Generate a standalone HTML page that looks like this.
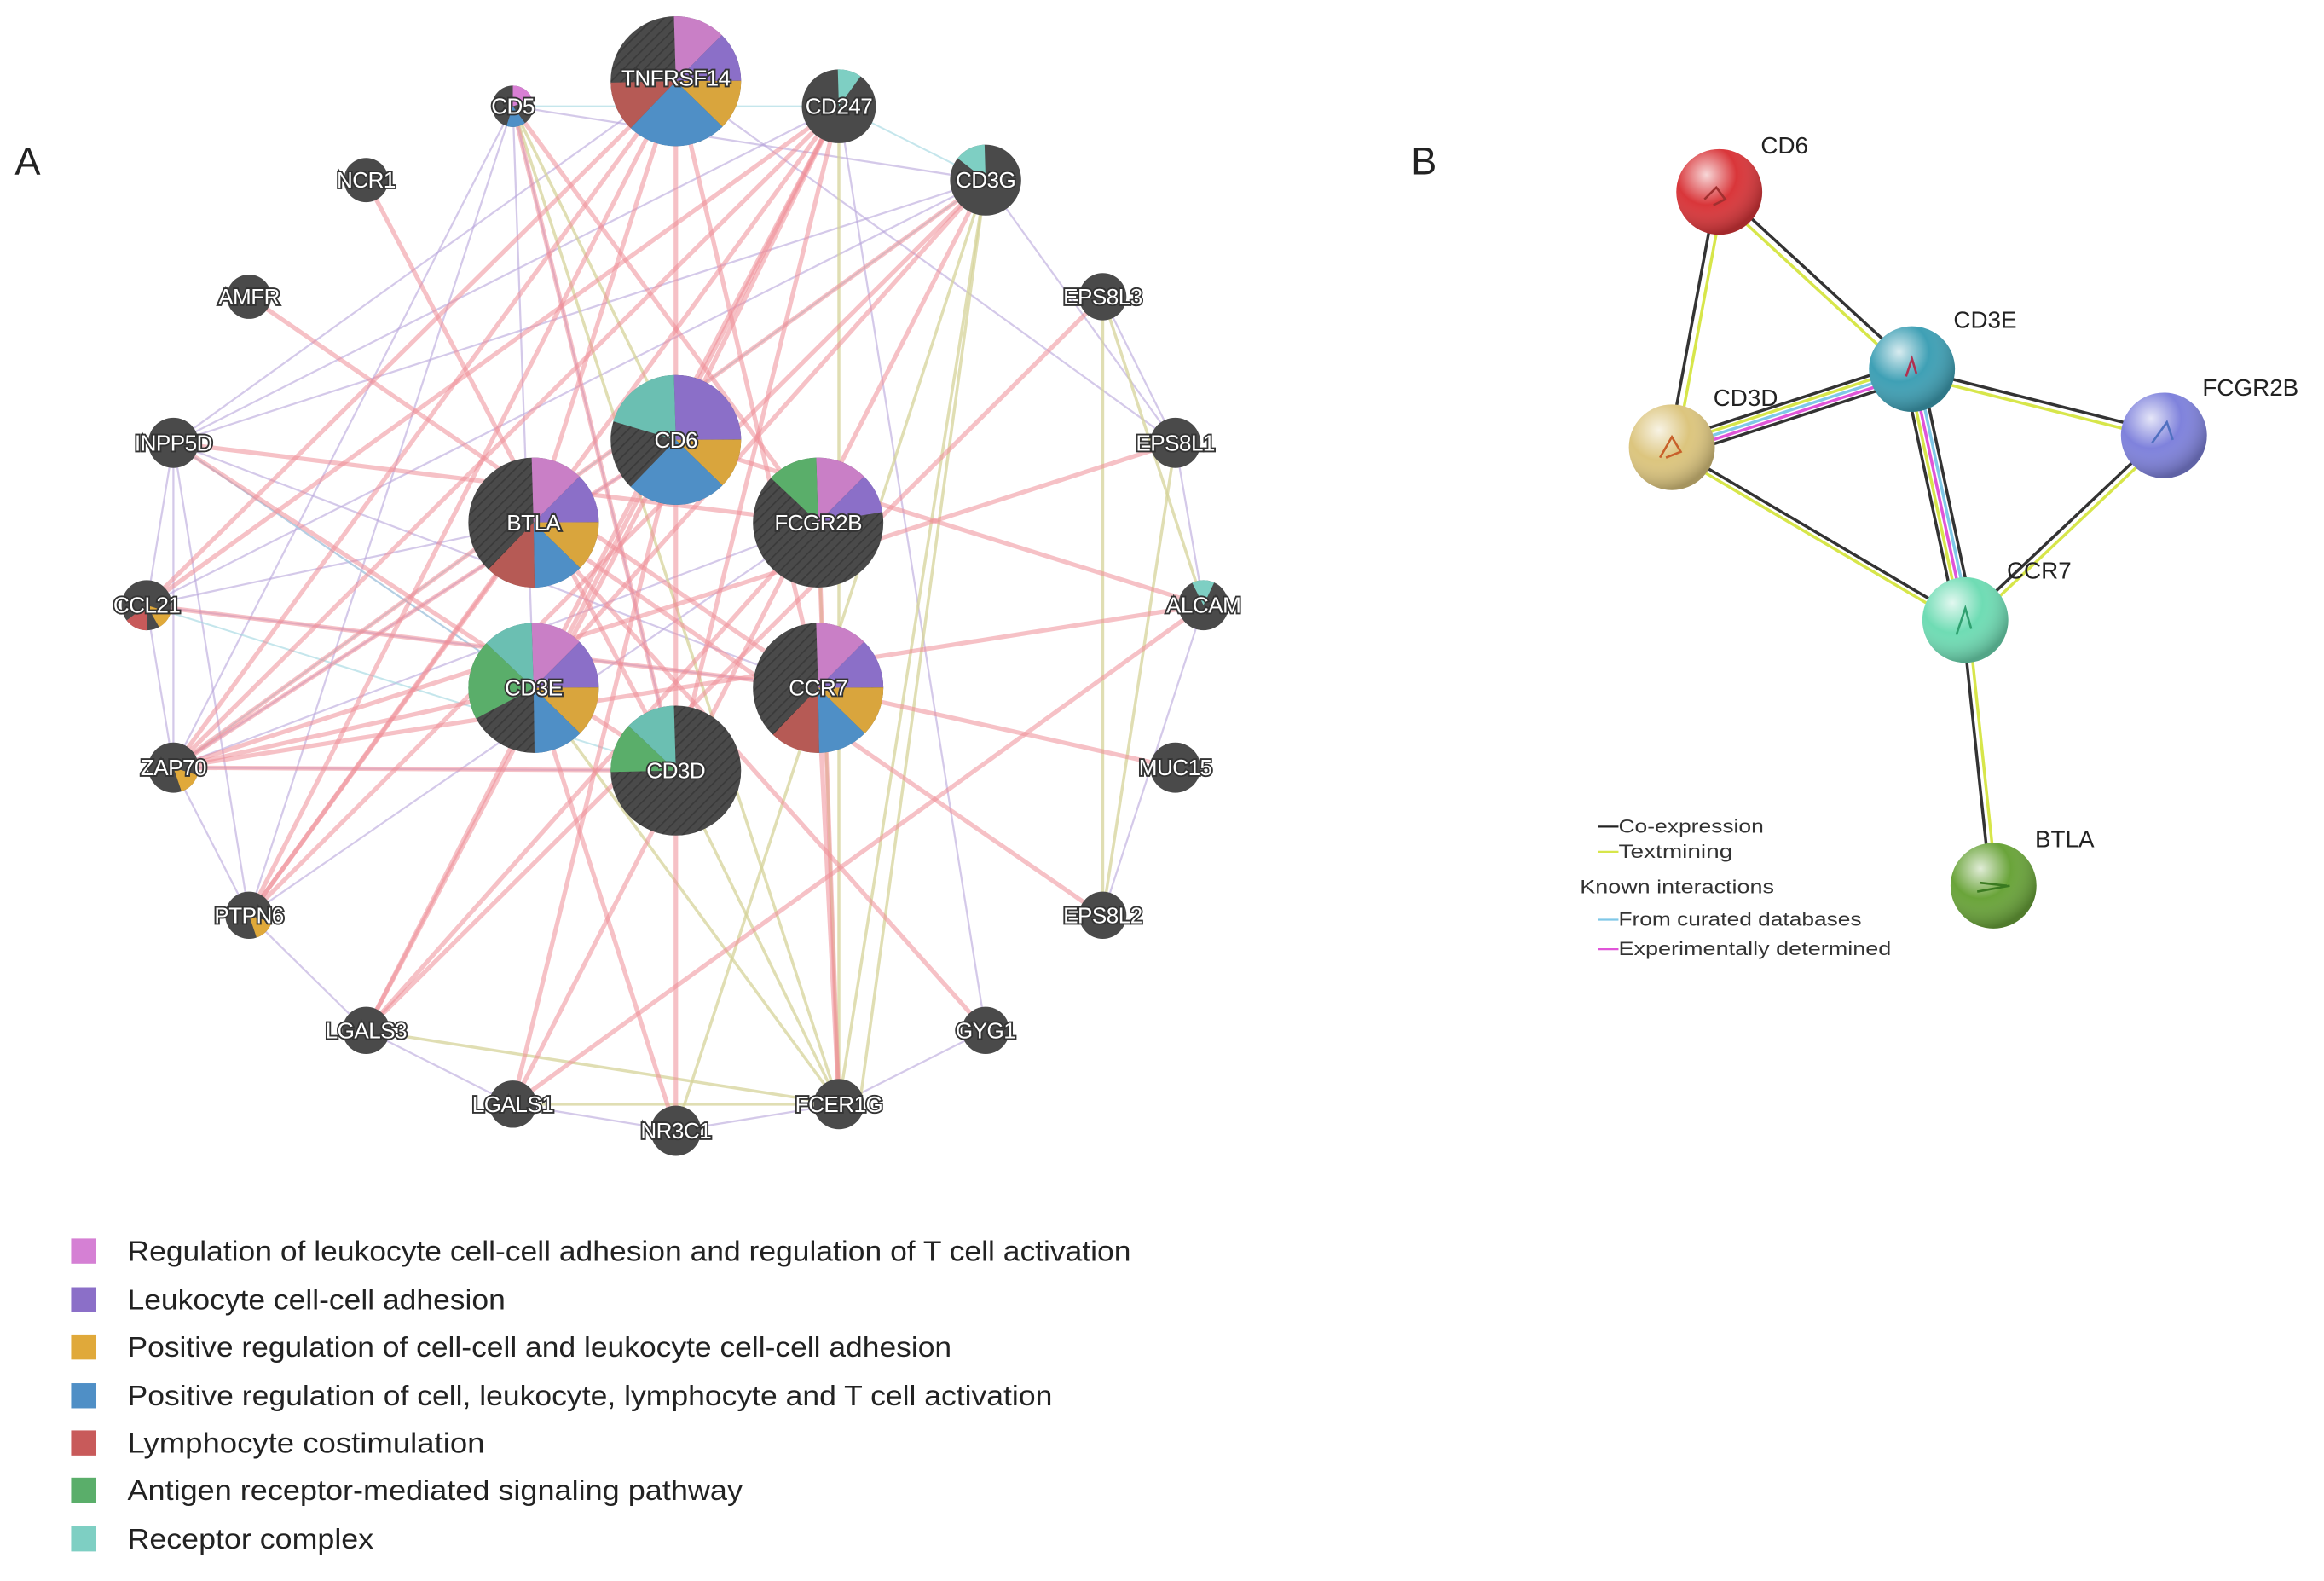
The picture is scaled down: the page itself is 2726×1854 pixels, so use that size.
<!DOCTYPE html>
<html><head><meta charset="utf-8">
<style>
html,body{margin:0;padding:0;background:#fff;}
svg{display:block;}
.lbl{font-family:"Liberation Sans",Arial,sans-serif;font-size:15px;fill:#fff;stroke:#333;stroke-width:2.2px;paint-order:stroke;text-anchor:middle;dominant-baseline:central;letter-spacing:-0.3px}
.leg{font-family:"Liberation Sans",Arial,sans-serif;font-size:19px;fill:#222}
.bl{font-family:"Liberation Sans",Arial,sans-serif;font-size:16px;fill:#222}
.sl{font-family:"Liberation Sans",Arial,sans-serif;font-size:13px;fill:#333}
.pk line{stroke:#f08f98;stroke-width:3;opacity:.55}
.pu line{stroke:#b9a6dc;stroke-width:1.3;opacity:.6}
.ol line{stroke:#d6d49a;stroke-width:2;opacity:.75}
.cy line{stroke:#9fd6e0;stroke-width:1.2;opacity:.6}
</style></head><body>
<svg width="2726" height="1854" viewBox="0 0 1568 1071" preserveAspectRatio="none" xmlns="http://www.w3.org/2000/svg">
<defs>
<pattern id="h" width="5" height="5" patternUnits="userSpaceOnUse" patternTransform="rotate(45)">
<rect width="5" height="5" fill="#4a4a4a"/><line x1="0" y1="0" x2="0" y2="5" stroke="#3a3a3a" stroke-width="2"/></pattern>
<radialGradient id="gr" cx="35%" cy="30%" r="70%"><stop offset="0" stop-color="#fff" stop-opacity=".8"/><stop offset=".5" stop-color="#fff" stop-opacity="0"/><stop offset="1" stop-color="#000" stop-opacity=".25"/></radialGradient>
</defs>
<text x="10" y="118" font-family="Liberation Sans,Arial,sans-serif" font-size="26" fill="#222">A</text>
<text x="952" y="118" font-family="Liberation Sans,Arial,sans-serif" font-size="26" fill="#222">B</text>

<g class="pu">
<line x1="346" y1="72" x2="117" y2="520"/><line x1="346" y1="72" x2="168" y2="620"/><line x1="346" y1="72" x2="360" y2="466"/>
<line x1="346" y1="72" x2="665" y2="122"/><line x1="117" y1="300" x2="99" y2="410"/><line x1="99" y1="410" x2="117" y2="520"/>
<line x1="117" y1="520" x2="168" y2="620"/><line x1="117" y1="300" x2="117" y2="520"/><line x1="117" y1="300" x2="168" y2="620"/>
<line x1="117" y1="300" x2="552" y2="466"/><line x1="99" y1="410" x2="552" y2="466"/><line x1="117" y1="520" x2="456" y2="522"/>
<line x1="168" y1="620" x2="552" y2="354"/><line x1="168" y1="620" x2="247" y2="698"/><line x1="247" y1="698" x2="346" y2="748"/>
<line x1="346" y1="748" x2="456" y2="766"/><line x1="456" y1="766" x2="566" y2="748"/><line x1="566" y1="748" x2="665" y2="698"/>
<line x1="665" y1="122" x2="117" y2="300"/><line x1="665" y1="122" x2="99" y2="410"/><line x1="566" y1="72" x2="117" y2="300"/>
<line x1="456" y1="55" x2="117" y2="300"/><line x1="456" y1="55" x2="793" y2="300"/><line x1="793" y1="300" x2="812" y2="410"/>
<line x1="744" y1="201" x2="793" y2="300"/><line x1="812" y1="410" x2="744" y2="620"/><line x1="665" y1="122" x2="793" y2="300"/>
<line x1="360" y1="354" x2="99" y2="410"/><line x1="360" y1="466" x2="117" y2="300"/><line x1="456" y1="298" x2="117" y2="520"/>
<line x1="552" y1="354" x2="117" y2="520"/><line x1="346" y1="72" x2="456" y2="522"/><line x1="566" y1="72" x2="665" y2="698"/>
</g>
<g class="cy">
<line x1="117" y1="300" x2="360" y2="466"/><line x1="99" y1="410" x2="456" y2="522"/><line x1="117" y1="520" x2="665" y2="122"/>
<line x1="566" y1="72" x2="665" y2="122"/><line x1="346" y1="72" x2="566" y2="72"/>
</g>
<g class="ol">
<line x1="566" y1="748" x2="665" y2="122"/><line x1="566" y1="748" x2="566" y2="72"/><line x1="566" y1="748" x2="360" y2="466"/>
<line x1="566" y1="748" x2="456" y2="522"/><line x1="566" y1="748" x2="346" y2="72"/><line x1="744" y1="201" x2="744" y2="620"/>
<line x1="793" y1="300" x2="744" y2="620"/><line x1="744" y1="201" x2="812" y2="410"/><line x1="456" y1="766" x2="665" y2="122"/>
<line x1="566" y1="748" x2="552" y2="354"/><line x1="346" y1="748" x2="566" y2="748"/><line x1="247" y1="698" x2="566" y2="748"/>
<line x1="580" y1="748" x2="665" y2="122"/><line x1="346" y1="72" x2="456" y2="298"/>
</g>
<g class="pk">
<line x1="456" y1="55" x2="117" y2="520"/><line x1="456" y1="55" x2="99" y2="410"/><line x1="456" y1="55" x2="168" y2="620"/>
<line x1="566" y1="72" x2="117" y2="520"/><line x1="566" y1="72" x2="168" y2="620"/><line x1="566" y1="72" x2="247" y2="698"/>
<line x1="665" y1="122" x2="117" y2="520"/><line x1="665" y1="122" x2="168" y2="620"/><line x1="456" y1="298" x2="812" y2="410"/>
<line x1="456" y1="298" x2="346" y2="748"/><line x1="552" y1="466" x2="99" y2="410"/><line x1="552" y1="466" x2="566" y2="748"/>
<line x1="552" y1="354" x2="566" y2="748"/><line x1="552" y1="354" x2="117" y2="300"/><line x1="456" y1="522" x2="117" y2="520"/>
<line x1="360" y1="466" x2="117" y2="520"/><line x1="360" y1="354" x2="168" y2="620"/><line x1="247" y1="122" x2="456" y2="522"/>
<line x1="168" y1="201" x2="552" y2="466"/><line x1="744" y1="201" x2="247" y2="698"/><line x1="793" y1="300" x2="117" y2="520"/>
<line x1="812" y1="410" x2="346" y2="748"/><line x1="360" y1="466" x2="665" y2="122"/><line x1="456" y1="522" x2="566" y2="72"/>
<line x1="360" y1="466" x2="566" y2="72"/><line x1="360" y1="354" x2="456" y2="55"/><line x1="346" y1="72" x2="456" y2="522"/>
<line x1="456" y1="766" x2="456" y2="55"/><line x1="247" y1="698" x2="456" y2="298"/><line x1="552" y1="354" x2="247" y2="698"/>
<line x1="552" y1="466" x2="793" y2="520"/><line x1="360" y1="354" x2="665" y2="698"/><line x1="117" y1="300" x2="456" y2="522"/>
<line x1="99" y1="410" x2="566" y2="72"/><line x1="812" y1="410" x2="117" y2="520"/><line x1="456" y1="298" x2="117" y2="520"/>
<line x1="552" y1="354" x2="346" y2="72"/><line x1="360" y1="466" x2="456" y2="766"/><line x1="665" y1="122" x2="346" y2="748"/>
<line x1="744" y1="620" x2="360" y2="354"/><line x1="566" y1="72" x2="456" y2="298"/><line x1="456" y1="55" x2="552" y2="466"/>
</g>

<g fill="#4a4a4a">
<circle cx="346" cy="72" r="14"/><circle cx="247" cy="122" r="15"/><circle cx="168" cy="201" r="15"/>
<circle cx="744" cy="201" r="16"/><circle cx="117" cy="300" r="17"/><circle cx="793" cy="300" r="17"/>
<circle cx="99" cy="410" r="17"/><circle cx="812" cy="410" r="17"/><circle cx="117" cy="520" r="17"/>
<circle cx="793" cy="520" r="17"/><circle cx="168" cy="620" r="16"/><circle cx="744" cy="620" r="16"/>
<circle cx="247" cy="698" r="16"/><circle cx="665" cy="698" r="16"/><circle cx="346" cy="748" r="16"/>
<circle cx="456" cy="766" r="17"/><circle cx="566" cy="748" r="17"/>
<circle cx="566" cy="72" r="25"/><circle cx="665" cy="122" r="24"/>
</g>
<circle cx="346" cy="72" r="7" fill="none" stroke="#d87fd4" stroke-width="14" pathLength="100" stroke-dasharray="20 80" transform="rotate(-90 346 72)"/>
<circle cx="346" cy="72" r="7" fill="none" stroke="#4f8fc6" stroke-width="14" pathLength="100" stroke-dasharray="15 85" stroke-dashoffset="-40" transform="rotate(-90 346 72)"/>
<circle cx="566" cy="72" r="12.5" fill="none" stroke="#7ecfc3" stroke-width="25" pathLength="100" stroke-dasharray="10 90" transform="rotate(-90 566 72)"/>
<circle cx="665" cy="122" r="12" fill="none" stroke="#7ecfc3" stroke-width="24" pathLength="100" stroke-dasharray="14 86" stroke-dashoffset="14" transform="rotate(-90 665 122)"/>
<circle cx="812" cy="410" r="8.5" fill="none" stroke="#7ecfc3" stroke-width="17" pathLength="100" stroke-dasharray="14 86" stroke-dashoffset="7" transform="rotate(-90 812 410)"/>
<circle cx="99" cy="410" r="8.5" fill="none" stroke="#c85a5a" stroke-width="17" pathLength="100" stroke-dasharray="15 85" stroke-dashoffset="-50" transform="rotate(-90 99 410)"/>
<circle cx="99" cy="410" r="8.5" fill="none" stroke="#e0a93a" stroke-width="17" pathLength="100" stroke-dasharray="12 88" stroke-dashoffset="-30" transform="rotate(-90 99 410)"/>
<circle cx="117" cy="520" r="8.5" fill="none" stroke="#e0a93a" stroke-width="17" pathLength="100" stroke-dasharray="15 85" stroke-dashoffset="-30" transform="rotate(-90 117 520)"/>
<circle cx="168" cy="620" r="8" fill="none" stroke="#e0a93a" stroke-width="16" pathLength="100" stroke-dasharray="15 85" stroke-dashoffset="-30" transform="rotate(-90 168 620)"/>

<g fill="url(#h)">
<circle cx="456" cy="55" r="44"/><circle cx="456" cy="298" r="44"/><circle cx="360" cy="354" r="44"/>
<circle cx="552" cy="354" r="44"/><circle cx="360" cy="466" r="44"/><circle cx="552" cy="466" r="44"/><circle cx="456" cy="522" r="44"/>
</g>
<g fill="none" stroke-width="44" transform="rotate(-90 456 55)">
<circle cx="456" cy="55" r="22" stroke="#c97fc6" pathLength="100" stroke-dasharray="12.5 87.5"/>
<circle cx="456" cy="55" r="22" stroke="#8b6fc8" pathLength="100" stroke-dasharray="12.5 87.5" stroke-dashoffset="-12.5"/>
<circle cx="456" cy="55" r="22" stroke="#d9a53d" pathLength="100" stroke-dasharray="12.5 87.5" stroke-dashoffset="-25"/>
<circle cx="456" cy="55" r="22" stroke="#4f8fc6" pathLength="100" stroke-dasharray="25 75" stroke-dashoffset="-37.5"/>
<circle cx="456" cy="55" r="22" stroke="#b65a55" pathLength="100" stroke-dasharray="12.5 87.5" stroke-dashoffset="-62.5"/>
</g>
<g fill="none" stroke-width="44" transform="rotate(-90 456 298)">
<circle cx="456" cy="298" r="22" stroke="#8b6fc8" pathLength="100" stroke-dasharray="25 75"/>
<circle cx="456" cy="298" r="22" stroke="#d9a53d" pathLength="100" stroke-dasharray="12.5 87.5" stroke-dashoffset="-25"/>
<circle cx="456" cy="298" r="22" stroke="#4f8fc6" pathLength="100" stroke-dasharray="25 75" stroke-dashoffset="-37.5"/>
<circle cx="456" cy="298" r="22" stroke="#6bbfb2" pathLength="100" stroke-dasharray="20 80" stroke-dashoffset="-80"/>
</g>
<g fill="none" stroke-width="44" transform="rotate(-90 360 354)">
<circle cx="360" cy="354" r="22" stroke="#c97fc6" pathLength="100" stroke-dasharray="12.5 87.5"/>
<circle cx="360" cy="354" r="22" stroke="#8b6fc8" pathLength="100" stroke-dasharray="12.5 87.5" stroke-dashoffset="-12.5"/>
<circle cx="360" cy="354" r="22" stroke="#d9a53d" pathLength="100" stroke-dasharray="12.5 87.5" stroke-dashoffset="-25"/>
<circle cx="360" cy="354" r="22" stroke="#4f8fc6" pathLength="100" stroke-dasharray="12.5 87.5" stroke-dashoffset="-37.5"/>
<circle cx="360" cy="354" r="22" stroke="#b65a55" pathLength="100" stroke-dasharray="12.5 87.5" stroke-dashoffset="-50"/>
</g>
<g fill="none" stroke-width="44" transform="rotate(-90 552 466)">
<circle cx="552" cy="466" r="22" stroke="#c97fc6" pathLength="100" stroke-dasharray="12.5 87.5"/>
<circle cx="552" cy="466" r="22" stroke="#8b6fc8" pathLength="100" stroke-dasharray="12.5 87.5" stroke-dashoffset="-12.5"/>
<circle cx="552" cy="466" r="22" stroke="#d9a53d" pathLength="100" stroke-dasharray="12.5 87.5" stroke-dashoffset="-25"/>
<circle cx="552" cy="466" r="22" stroke="#4f8fc6" pathLength="100" stroke-dasharray="12.5 87.5" stroke-dashoffset="-37.5"/>
<circle cx="552" cy="466" r="22" stroke="#b65a55" pathLength="100" stroke-dasharray="12.5 87.5" stroke-dashoffset="-50"/>
</g>
<g fill="none" stroke-width="44" transform="rotate(-90 552 354)">
<circle cx="552" cy="354" r="22" stroke="#c97fc6" pathLength="100" stroke-dasharray="12.5 87.5"/>
<circle cx="552" cy="354" r="22" stroke="#8b6fc8" pathLength="100" stroke-dasharray="10 90" stroke-dashoffset="-12.5"/>
<circle cx="552" cy="354" r="22" stroke="#5aae6a" pathLength="100" stroke-dasharray="12.5 87.5" stroke-dashoffset="-87.5"/>
</g>
<g fill="none" stroke-width="44" transform="rotate(-90 360 466)">
<circle cx="360" cy="466" r="22" stroke="#c97fc6" pathLength="100" stroke-dasharray="12.5 87.5"/>
<circle cx="360" cy="466" r="22" stroke="#8b6fc8" pathLength="100" stroke-dasharray="12.5 87.5" stroke-dashoffset="-12.5"/>
<circle cx="360" cy="466" r="22" stroke="#d9a53d" pathLength="100" stroke-dasharray="12.5 87.5" stroke-dashoffset="-25"/>
<circle cx="360" cy="466" r="22" stroke="#4f8fc6" pathLength="100" stroke-dasharray="12.5 87.5" stroke-dashoffset="-37.5"/>
<circle cx="360" cy="466" r="22" stroke="#5aae6a" pathLength="100" stroke-dasharray="20 80" stroke-dashoffset="-67.5"/>
<circle cx="360" cy="466" r="22" stroke="#6bbfb2" pathLength="100" stroke-dasharray="12.5 87.5" stroke-dashoffset="-87.5"/>
</g>
<g fill="none" stroke-width="44" transform="rotate(-90 456 522)">
<circle cx="456" cy="522" r="22" stroke="#5aae6a" pathLength="100" stroke-dasharray="12.5 87.5" stroke-dashoffset="-75"/>
<circle cx="456" cy="522" r="22" stroke="#6bbfb2" pathLength="100" stroke-dasharray="12.5 87.5" stroke-dashoffset="-87.5"/>
</g>

<g class="lbl">
<text x="456" y="53">TNFRSF14</text><text x="346" y="72">CD5</text><text x="566" y="72">CD247</text>
<text x="665" y="122">CD3G</text><text x="247" y="122">NCR1</text><text x="168" y="201">AMFR</text>
<text x="744" y="201">EPS8L3</text><text x="117" y="300">INPP5D</text><text x="793" y="300">EPS8L1</text>
<text x="456" y="298">CD6</text><text x="360" y="354">BTLA</text><text x="552" y="354">FCGR2B</text>
<text x="99" y="410">CCL21</text><text x="812" y="410">ALCAM</text><text x="360" y="466">CD3E</text>
<text x="552" y="466">CCR7</text><text x="456" y="522">CD3D</text><text x="117" y="520">ZAP70</text>
<text x="793" y="520">MUC15</text><text x="168" y="620">PTPN6</text><text x="744" y="620">EPS8L2</text>
<text x="247" y="698">LGALS3</text><text x="665" y="698">GYG1</text><text x="346" y="748">LGALS1</text>
<text x="456" y="766">NR3C1</text><text x="566" y="748">FCER1G</text>
</g>

<rect x="48" y="839" width="17" height="17" fill="#d580d4"/>
<rect x="48" y="872" width="17" height="17" fill="#8b6fc8"/>
<rect x="48" y="904" width="17" height="17" fill="#e0a93a"/>
<rect x="48" y="937" width="17" height="17" fill="#4f8fc6"/>
<rect x="48" y="969" width="17" height="17" fill="#c85a5a"/>
<rect x="48" y="1001" width="17" height="17" fill="#5aae6a"/>
<rect x="48" y="1034" width="17" height="17" fill="#7ecfc3"/>
<g class="leg">
<text x="86" y="854" textLength="677" lengthAdjust="spacingAndGlyphs">Regulation of leukocyte cell-cell adhesion and regulation of T cell activation</text>
<text x="86" y="887" textLength="255" lengthAdjust="spacingAndGlyphs">Leukocyte cell-cell adhesion</text>
<text x="86" y="919" textLength="556" lengthAdjust="spacingAndGlyphs">Positive regulation of cell-cell and leukocyte cell-cell adhesion</text>
<text x="86" y="952" textLength="624" lengthAdjust="spacingAndGlyphs">Positive regulation of cell, leukocyte, lymphocyte and T cell activation</text>
<text x="86" y="984" textLength="241" lengthAdjust="spacingAndGlyphs">Lymphocyte costimulation</text>
<text x="86" y="1016" textLength="415" lengthAdjust="spacingAndGlyphs">Antigen receptor-mediated signaling pathway</text>
<text x="86" y="1049" textLength="166" lengthAdjust="spacingAndGlyphs">Receptor complex</text>
</g>

<g stroke-width="2" fill="none">
<line x1="1158" y1="130" x2="1126" y2="303" stroke="#333"/><line x1="1163" y1="131" x2="1131" y2="304" stroke="#d7e64a"/>
<line x1="1160" y1="128" x2="1290" y2="248" stroke="#333"/><line x1="1158" y1="133" x2="1288" y2="253" stroke="#d7e64a"/>
<line x1="1290" y1="250" x2="1460" y2="293" stroke="#333"/><line x1="1289" y1="254" x2="1459" y2="297" stroke="#d7e64a"/>
<line x1="1326" y1="420" x2="1458" y2="295" stroke="#333"/><line x1="1329" y1="423" x2="1461" y2="298" stroke="#d7e64a"/>
<line x1="1128" y1="303" x2="1326" y2="420" stroke="#333"/>
<line x1="1128" y1="303" x2="1326" y2="420" stroke="#d7e64a" transform="translate(0,4)"/>
<line x1="1128" y1="298" x2="1290" y2="245" stroke="#333"/>
<line x1="1128" y1="301" x2="1290" y2="248" stroke="#d7e64a"/>
<line x1="1128" y1="304" x2="1290" y2="251" stroke="#7fc8e8"/>
<line x1="1128" y1="307" x2="1290" y2="254" stroke="#e055d8"/>
<line x1="1128" y1="310" x2="1290" y2="257" stroke="#333"/>
<line x1="1284" y1="250" x2="1320" y2="420" stroke="#333"/>
<line x1="1287" y1="250" x2="1323" y2="420" stroke="#d7e64a"/>
<line x1="1290" y1="250" x2="1326" y2="420" stroke="#e055d8"/>
<line x1="1293" y1="250" x2="1329" y2="420" stroke="#7fc8e8"/>
<line x1="1296" y1="250" x2="1332" y2="420" stroke="#333"/>
<line x1="1324" y1="420" x2="1343" y2="600" stroke="#333"/><line x1="1328" y1="420" x2="1347" y2="600" stroke="#d7e64a"/>
</g>
<circle cx="1160" cy="130" r="29" fill="#d9363a"/><circle cx="1160" cy="130" r="29" fill="url(#gr)"/>
<circle cx="1290" cy="250" r="29" fill="#3fa0b5"/><circle cx="1290" cy="250" r="29" fill="url(#gr)"/>
<circle cx="1128" cy="303" r="29" fill="#dcc57e"/><circle cx="1128" cy="303" r="29" fill="url(#gr)"/>
<circle cx="1460" cy="295" r="29" fill="#7f82dc"/><circle cx="1460" cy="295" r="29" fill="url(#gr)"/>
<circle cx="1326" cy="420" r="29" fill="#6fdcb4"/><circle cx="1326" cy="420" r="29" fill="url(#gr)"/>
<circle cx="1345" cy="600" r="29" fill="#6aa43a"/><circle cx="1345" cy="600" r="29" fill="url(#gr)"/>
<g stroke-width="1.5" fill="none">
<path d="M1150 135 l8 -8 l6 8 l-8 4" stroke="#a03030"/>
<path d="M1286 255 l4 -12 l3 10" stroke="#b03050"/>
<path d="M1120 310 l8 -14 l6 10 l-10 4" stroke="#c8602a"/>
<path d="M1452 300 l10 -14 l4 12" stroke="#5070c0"/>
<path d="M1320 430 l6 -18 l4 14" stroke="#30a070"/>
<path d="M1334 604 l22 -4 M1336 598 l18 2" stroke="#3a7a20"/>
</g>
<g class="bl">
<text x="1188" y="104">CD6</text><text x="1318" y="222">CD3E</text><text x="1156" y="275">CD3D</text>
<text x="1486" y="268">FCGR2B</text><text x="1354" y="392">CCR7</text><text x="1373" y="574">BTLA</text>
</g>
<line x1="1078" y1="560" x2="1092" y2="560" stroke="#222" stroke-width="1.3"/>
<line x1="1078" y1="577" x2="1092" y2="577" stroke="#d7e64a" stroke-width="1.3"/>
<line x1="1078" y1="623" x2="1092" y2="623" stroke="#7fc8e8" stroke-width="1.3"/>
<line x1="1078" y1="643" x2="1092" y2="643" stroke="#e055d8" stroke-width="1.3"/>
<g class="sl">
<text x="1092" y="564" textLength="98" lengthAdjust="spacingAndGlyphs">Co-expression</text>
<text x="1092" y="581" textLength="77" lengthAdjust="spacingAndGlyphs">Textmining</text>
<text x="1066" y="605" textLength="131" lengthAdjust="spacingAndGlyphs">Known interactions</text>
<text x="1092" y="627" textLength="164" lengthAdjust="spacingAndGlyphs">From curated databases</text>
<text x="1092" y="647" textLength="184" lengthAdjust="spacingAndGlyphs">Experimentally determined</text>
</g>
</svg>
</body></html>
